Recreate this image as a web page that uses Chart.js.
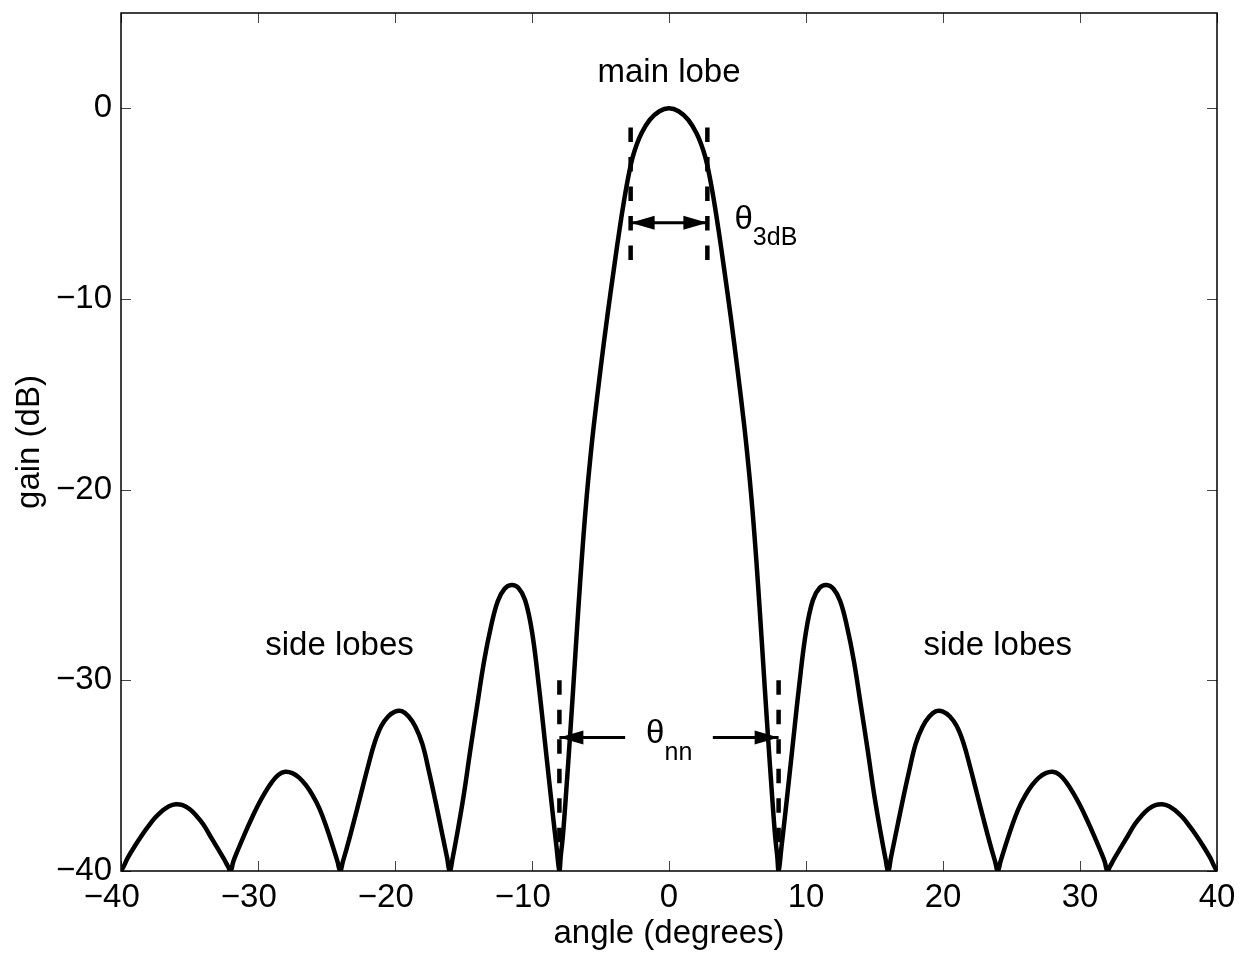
<!DOCTYPE html>
<html>
<head>
<meta charset="utf-8">
<title>Array gain pattern</title>
<script src="https://cdn.jsdelivr.net/npm/chart.js@4.4.1/dist/chart.umd.min.js"></script>
<style>
  html, body { margin: 0; padding: 0; background: #fff; }
  #wrap { width: 1244px; height: 955px; }
</style>
</head>
<body>
<div id="wrap"><canvas id="beam" width="1244" height="955"></canvas></div>
<script>
/* ================================================
   DATA  (one row per lobe)
================================================ */
const angleDeg = [
  -40, -39.8, -39.5, -39.0, -38.5, -38.0, -37.5, -37.0, -36.5, -36.0, -35.5, -35.0, -34.5, -34.0, -33.5, -33.0, -32.5, -32.2,
  -32, -31.8, -31.5, -31.0, -30.5, -30.0, -29.5, -29.0, -28.5, -28.0, -27.5, -27.0, -26.5, -26.0, -25.5, -25.0, -24.5, -24.2,
  -24, -23.8, -23.5, -23.0, -22.5, -22.0, -21.5, -21.0, -20.5, -20.0, -19.5, -19.0, -18.5, -18.0, -17.5, -17.0, -16.5, -16.2,
  -16, -15.8, -15.5, -15.0, -14.5, -14.0, -13.5, -13.0, -12.5, -12.0, -11.5, -11.0, -10.5, -10.0, -9.5, -9.0, -8.5, -8.2,
  -8, -7.9, -7.75, -7.5, -7.25, -7.0, -6.75, -6.5, -6.25, -6.0, -5.75, -5.5, -5.0, -4.5, -4.0, -3.6, -3.2, -2.8, -2.5, -2.0, -1.4, -0.7,
  0, 0.7, 1.4, 2.0, 2.5, 2.8, 3.2, 3.6, 4.0, 4.5, 5.0, 5.5, 5.75, 6.0, 6.25, 6.5, 6.75, 7.0, 7.25, 7.5, 7.75, 7.9,
  8, 8.2, 8.5, 9.0, 9.5, 10.0, 10.5, 11.0, 11.5, 12.0, 12.5, 13.0, 13.5, 14.0, 14.5, 15.0, 15.5, 15.8,
  16, 16.2, 16.5, 17.0, 17.5, 18.0, 18.5, 19.0, 19.5, 20.0, 20.5, 21.0, 21.5, 22.0, 22.5, 23.0, 23.5, 23.8,
  24, 24.2, 24.5, 25.0, 25.5, 26.0, 26.5, 27.0, 27.5, 28.0, 28.5, 29.0, 29.5, 30.0, 30.5, 31.0, 31.5, 31.8,
  32, 32.2, 32.5, 33.0, 33.5, 34.0, 34.5, 35.0, 35.5, 36.0, 36.5, 37.0, 37.5, 38.0, 38.5, 39.0, 39.5, 39.8, 40
];

const gainDb = [
  -40, -39.75, -39.3, -38.7, -38.15, -37.65, -37.2, -36.85, -36.6, -36.5, -36.55, -36.75, -37.1, -37.55, -38.15, -38.75, -39.35, -39.75,
  -40, -39.5, -38.95, -38.1, -37.3, -36.55, -35.9, -35.35, -34.95, -34.8, -34.87, -35.1, -35.5, -36.05, -36.75, -37.7, -38.8, -39.5,
  -40, -39.5, -38.75, -37.4, -36.0, -34.6, -33.3, -32.4, -31.9, -31.64, -31.62, -31.9, -32.45, -33.35, -34.85, -36.5, -38.25, -39.3,
  -40, -39.35, -38.2, -36.1, -33.65, -31.3, -29.0, -27.2, -25.85, -25.2, -25.0, -25.15, -25.8, -27.45, -30.3, -33.6, -36.9, -38.8,
  -40, -39.2, -38.2, -35.8, -33.2, -30.5, -27.7, -25.0, -22.5, -20.3, -18.4, -16.7, -13.7, -10.9, -8.3, -6.3, -4.5, -3.0, -2.2, -1.3, -0.6, -0.15,
  0, -0.15, -0.6, -1.3, -2.2, -3.0, -4.5, -6.3, -8.3, -10.9, -13.7, -16.7, -18.4, -20.3, -22.5, -25.0, -27.7, -30.5, -33.2, -35.8, -38.2, -39.2,
  -40, -38.8, -36.9, -33.6, -30.3, -27.45, -25.8, -25.15, -25.0, -25.2, -25.85, -27.2, -29.0, -31.3, -33.65, -36.1, -38.2, -39.35,
  -40, -39.3, -38.25, -36.5, -34.85, -33.35, -32.45, -31.9, -31.62, -31.64, -31.9, -32.4, -33.3, -34.6, -36.0, -37.4, -38.75, -39.5,
  -40, -39.5, -38.8, -37.7, -36.75, -36.05, -35.5, -35.1, -34.87, -34.8, -34.95, -35.35, -35.9, -36.55, -37.3, -38.1, -38.95, -39.5,
  -40, -39.75, -39.35, -38.75, -38.15, -37.55, -37.1, -36.75, -36.55, -36.5, -36.6, -36.85, -37.2, -37.65, -38.15, -38.7, -39.3, -39.75, -40
];

const xTicks      = [-40, -30, -20, -10, 0, 10, 20, 30, 40];
const xTickLabels = ['\u221240', '\u221230', '\u221220', '\u221210', '0', '10', '20', '30', '40'];
const yTicks      = [-40, -30, -20, -10, 0];
const yTickLabels = ['\u221240', '\u221230', '\u221220', '\u221210', '0'];

// annotation anchors (data units)
const beamEdges   = [-2.8, 2.8];   // 3 dB points
const beamDashY   = [-1, -8];
const beamArrowY  = -6;
const nullEdges   = [-8, 8];       // first nulls
const nullDashY   = [-30, -40];
const nullArrowY  = -33;
const nullTails   = [-3.2, 3.2];

const textLabels = [
  { text: 'main lobe',  x: 0,      y: 1.36 },
  { text: 'side lobes', x: -24.05, y: -28.68 },
  { text: 'side lobes', x: 24.0,   y: -28.68 },
];
const thetaLabels = [
  { sub: '3dB', x: 4.78,  y: -6.32 },
  { sub: 'nn',  x: -1.67, y: -33.29 },
];

/* ================================================
   STYLE
================================================ */
const FONT      = '"Liberation Sans", Arial, Helvetica, sans-serif';
const TICK_LEN  = 10;
const HEAD_LEN  = 24;
const HEAD_HALF = 7;

Chart.defaults.font.family = FONT;
Chart.defaults.color = '#000';

/* ================================================
   PLUGINS
================================================ */
// MATLAB-style box with inward ticks on all four sides
const matlabFrame = {
  id: 'matlabFrame',
  afterDraw(chart) {
    const { ctx, chartArea: a, scales: { x, y } } = chart;
    ctx.save();
    ctx.strokeStyle = '#444';
    ctx.lineWidth = 1;
    ctx.beginPath();
    x.ticks.forEach(t => {
      const px = Math.round(x.getPixelForValue(t.value)) + 0.5;
      ctx.moveTo(px, a.bottom); ctx.lineTo(px, a.bottom - TICK_LEN);
      ctx.moveTo(px, a.top);    ctx.lineTo(px, a.top + TICK_LEN);
    });
    y.ticks.forEach(t => {
      const py = Math.round(y.getPixelForValue(t.value)) + 0.5;
      ctx.moveTo(a.left, py);  ctx.lineTo(a.left + TICK_LEN, py);
      ctx.moveTo(a.right, py); ctx.lineTo(a.right - TICK_LEN, py);
    });
    ctx.stroke();
    ctx.strokeStyle = '#000';
    ctx.lineWidth = 1.5;
    ctx.strokeRect(a.left, a.top, a.right - a.left, a.bottom - a.top);
    ctx.restore();
  }
};

function arrowHead(ctx, tipX, tipY, dir) {
  ctx.beginPath();
  ctx.moveTo(tipX, tipY);
  ctx.lineTo(tipX - dir * HEAD_LEN, tipY - HEAD_HALF);
  ctx.lineTo(tipX - dir * HEAD_LEN, tipY + HEAD_HALF);
  ctx.closePath();
  ctx.fill();
}

// arrow heads and text annotations
const notes = {
  id: 'notes',
  afterDatasetsDraw(chart) {
    const { ctx, scales: { x, y } } = chart;
    ctx.save();
    ctx.fillStyle = '#000';

    beamEdges.forEach(e => arrowHead(ctx, x.getPixelForValue(e), y.getPixelForValue(beamArrowY), Math.sign(e)));
    nullEdges.forEach(e => arrowHead(ctx, x.getPixelForValue(e), y.getPixelForValue(nullArrowY), Math.sign(e)));

    ctx.font = `33px ${FONT}`;
    ctx.textAlign = 'center';
    ctx.textBaseline = 'alphabetic';
    textLabels.forEach(l => ctx.fillText(l.text, x.getPixelForValue(l.x), y.getPixelForValue(l.y)));

    ctx.textAlign = 'left';
    thetaLabels.forEach(l => {
      const px = x.getPixelForValue(l.x);
      const py = y.getPixelForValue(l.y);
      ctx.font = `33px ${FONT}`;
      ctx.fillText('\u03b8', px, py);
      const w = ctx.measureText('\u03b8').width;
      ctx.font = `25px ${FONT}`;
      ctx.fillText(l.sub, px + w, py + 16.5);
    });
    ctx.restore();
  }
};

/* ================================================
   CHART
================================================ */
const pattern = angleDeg.map((a, i) => ({ x: a, y: gainDb[i] }));
const vline = (xv, ys) => [{ x: xv, y: ys[0] }, { x: xv, y: ys[1] }];
const hline = (yv, xs) => [{ x: xs[0], y: yv }, { x: xs[1], y: yv }];

function marker(data, dashed, width) {
  return {
    data,
    borderColor: '#000',
    borderWidth: width,
    borderDash: dashed ? [14.5, 15] : [],
    pointRadius: 0,
    tension: 0,
  };
}

new Chart(document.getElementById('beam'), {
  type: 'line',
  data: {
    datasets: [
      {
        label: 'gain',
        data: pattern,
        borderColor: '#000',
        borderWidth: 4.5,
        pointRadius: 0,
        tension: 0.4,
      },
      marker(vline(beamEdges[0], beamDashY), true, 4.5),
      marker(vline(beamEdges[1], beamDashY), true, 4.5),
      marker(vline(nullEdges[0], nullDashY), true, 4.5),
      marker(vline(nullEdges[1], nullDashY), true, 4.5),
      marker(hline(beamArrowY, beamEdges), false, 3),
      marker(hline(nullArrowY, [nullEdges[0], nullTails[0]]), false, 3),
      marker(hline(nullArrowY, [nullTails[1], nullEdges[1]]), false, 3),
    ],
  },
  options: {
    responsive: false,
    animation: false,
    events: [],
    layout: { padding: { top: 13, right: 27, left: 0, bottom: 0 } },
    plugins: { legend: { display: false }, tooltip: { enabled: false } },
    scales: {
      x: {
        type: 'linear',
        min: -40,
        max: 40,
        afterBuildTicks: s => { s.ticks = xTicks.map(v => ({ value: v })); },
        afterFit: s => { s.height = 84; s.paddingLeft = 0; s.paddingRight = 0; },
        grid: { display: false, drawTicks: false },
        border: { display: false },
        ticks: {
          autoSkip: false,
          maxRotation: 0,
          padding: 7,
          color: '#000',
          font: { size: 33 },
          // trailing spaces keep the digits centred on the tick like MATLAB
          callback: (v, i) => xTickLabels[i] + (xTicks[i] < 0 ? '  ' : ''),
        },
        title: {
          display: true,
          text: 'angle (degrees)',
          color: '#000',
          font: { size: 33 },
          padding: { top: 0, bottom: 1 },
        },
      },
      y: {
        type: 'linear',
        min: -40,
        max: 5,
        afterBuildTicks: s => { s.ticks = yTicks.map(v => ({ value: v })); },
        afterFit: s => { s.width = 121; s.paddingTop = 0; s.paddingBottom = 0; },
        grid: { display: false, drawTicks: false },
        border: { display: false },
        ticks: {
          padding: 9,
          color: '#000',
          font: { size: 33 },
          callback: (v, i) => yTickLabels[i],
        },
        title: {
          display: true,
          text: 'gain (dB)',
          color: '#000',
          font: { size: 33 },
          padding: { top: 10, bottom: 0 },
        },
      },
    },
  },
  plugins: [matlabFrame, notes],
});
</script>
</body>
</html>
